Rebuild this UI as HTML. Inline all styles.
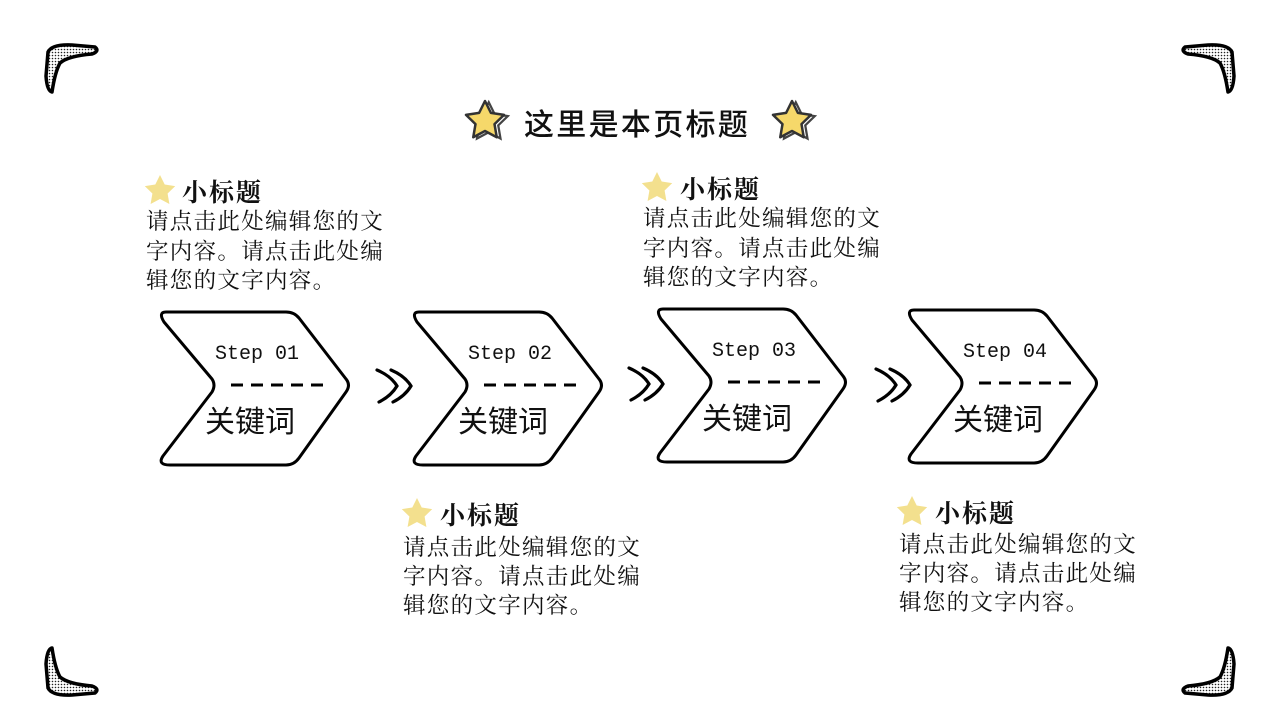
<!DOCTYPE html>
<html><head><meta charset="utf-8"><style>
html,body{margin:0;padding:0;background:#fff;}
svg{display:block}
.t{font-family:"Liberation Sans","Noto Sans CJK SC",sans-serif;font-size:30px;font-weight:500;fill:#111;letter-spacing:2.3px}
.s{font-family:"Liberation Serif","Noto Serif CJK SC",serif;font-size:25px;font-weight:700;fill:#111;letter-spacing:2px}
.b{font-family:"Liberation Serif","Noto Serif CJK SC",serif;font-size:22.5px;fill:#111;letter-spacing:1.3px}
.st{font-family:"Liberation Mono",monospace;font-size:20px;fill:#111}
.k{font-family:"Liberation Sans","Noto Sans CJK SC",sans-serif;font-size:30px;fill:#111}
</style></head><body>
<svg width="1280" height="720" viewBox="0 0 1280 720" xmlns="http://www.w3.org/2000/svg">
<defs>
<pattern id="dots" width="3" height="3" patternUnits="userSpaceOnUse"><rect width="3" height="3" fill="#fff"/><circle cx="1.5" cy="1.5" r="0.8" fill="#222"/></pattern>
<path id="boom" d="M48,52 Q52,44 72,45 L95,47 Q100,51 92,54 Q68,56 60,63 Q55,72 52,92 Q47,91 46,76 Z" fill="url(#dots)" stroke="#000" stroke-width="3.5" stroke-linejoin="round"/>
<path id="chev" d="M8,0 L128,0 Q136,0 141,6 L188,67 Q193,73 188,80 L141,146 Q136,153 128,153 L12,153 Q-1,153 5,144 L54,80 Q58,73 54,67 L6,10 Q0,0 8,0 Z" fill="#fff" stroke="#000" stroke-width="3" stroke-linejoin="round"/>
<path id="dbl" d="M0,0 Q14,6 20,16 Q14,26 2,32 M14,0 Q28,6 34,16 Q28,26 16,32" fill="none" stroke="#000" stroke-width="3.2" stroke-linecap="round"/>
<path id="star" d="M0,-16 L4.7,-6.5 L15.2,-4.9 L7.6,2.5 L9.4,13 L0,8 L-9.4,13 L-7.6,2.5 L-15.2,-4.9 L-4.7,-6.5 Z"/>
</defs>
<use href="#boom"/>
<use href="#boom" transform="translate(1280,0) scale(-1,1)"/>
<use href="#boom" transform="translate(0,740) scale(1,-1)"/>
<use href="#boom" transform="translate(1280,740) scale(-1,-1)"/>

<g transform="translate(485,121) scale(1.25)"><use href="#star" transform="translate(3,1)" fill="#fff" stroke="#444" stroke-width="1.8"/><use href="#star" fill="#f6d86a" stroke="#333" stroke-width="2" stroke-linejoin="round"/></g>
<g transform="translate(792,121) scale(1.25)"><use href="#star" transform="translate(3,1)" fill="#fff" stroke="#444" stroke-width="1.8"/><use href="#star" fill="#f6d86a" stroke="#333" stroke-width="2" stroke-linejoin="round"/></g>
<text class="t" x="524" y="135">这里是本页标题</text>

<g transform="translate(158,312)"><use href="#chev"/><text class="st" x="57" y="47">Step 01</text><line x1="73" y1="73" x2="168" y2="73" stroke="#000" stroke-width="3" stroke-dasharray="12,8"/><text class="k" x="47" y="120">关键词</text></g>
<g transform="translate(411,312)"><use href="#chev"/><text class="st" x="57" y="47">Step 02</text><line x1="73" y1="73" x2="168" y2="73" stroke="#000" stroke-width="3" stroke-dasharray="12,8"/><text class="k" x="47" y="120">关键词</text></g>
<g transform="translate(655,309)"><use href="#chev"/><text class="st" x="57" y="47">Step 03</text><line x1="73" y1="73" x2="168" y2="73" stroke="#000" stroke-width="3" stroke-dasharray="12,8"/><text class="k" x="47" y="120">关键词</text></g>
<g transform="translate(906,310)"><use href="#chev"/><text class="st" x="57" y="47">Step 04</text><line x1="73" y1="73" x2="168" y2="73" stroke="#000" stroke-width="3" stroke-dasharray="12,8"/><text class="k" x="47" y="120">关键词</text></g>

<use href="#dbl" transform="translate(377,370)"/>
<use href="#dbl" transform="translate(629,368)"/>
<use href="#dbl" transform="translate(876,369)"/>

<g><use href="#star" transform="translate(160,191)" fill="#f3e08e"/><text class="s" x="182" y="201">小标题</text>
<text class="b" x="146" y="229">请点击此处编辑您的文</text><text class="b" x="146" y="259">字内容。请点击此处编</text><text class="b" x="146" y="288">辑您的文字内容。</text></g>
<g><use href="#star" transform="translate(657,188)" fill="#f3e08e"/><text class="s" x="680" y="198">小标题</text>
<text class="b" x="643" y="226">请点击此处编辑您的文</text><text class="b" x="643" y="256">字内容。请点击此处编</text><text class="b" x="643" y="285">辑您的文字内容。</text></g>
<g><use href="#star" transform="translate(417,514)" fill="#f3e08e"/><text class="s" x="440" y="524">小标题</text>
<text class="b" x="403" y="555">请点击此处编辑您的文</text><text class="b" x="403" y="584">字内容。请点击此处编</text><text class="b" x="403" y="613">辑您的文字内容。</text></g>
<g><use href="#star" transform="translate(912,512)" fill="#f3e08e"/><text class="s" x="935" y="522">小标题</text>
<text class="b" x="899" y="552">请点击此处编辑您的文</text><text class="b" x="899" y="581">字内容。请点击此处编</text><text class="b" x="899" y="610">辑您的文字内容。</text></g>
</svg>
</body></html>
